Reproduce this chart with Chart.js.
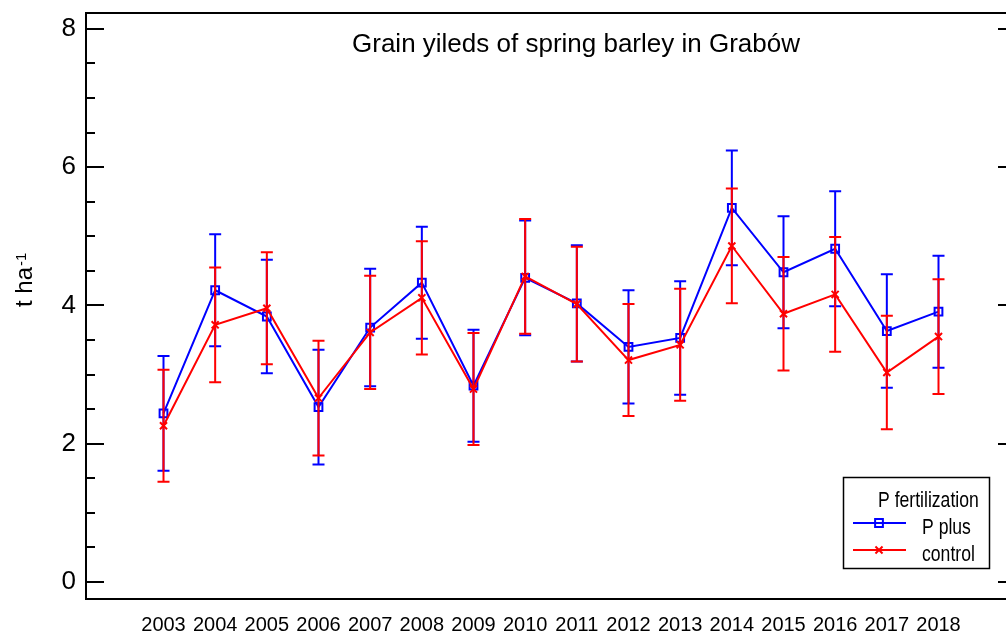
<!DOCTYPE html>
<html><head><meta charset="utf-8">
<script src="https://cdn.jsdelivr.net/npm/chart.js@4.4.0/dist/chart.umd.min.js"></script>
<style>html,body{margin:0;padding:0;background:#fff;overflow:hidden;} #wrap{width:1030px;height:637px;}</style>
</head><body><div id="wrap"><canvas id="c" width="1030" height="637"></canvas></div>
<script>
const years = [2003,2004,2005,2006,2007,2008,2009,2010,2011,2012,2013,2014,2015,2016,2017,2018];
const pPlus      = [2.44,4.22,3.84,2.53,3.68,4.33,2.84,4.40,4.03,3.40,3.53,5.41,4.48,4.82,3.63,3.91];
const pPlusErr   = [0.83,0.81,0.82,0.83,0.85,0.81,0.81,0.83,0.84,0.82,0.82,0.83,0.81,0.83,0.82,0.81];
const control    = [2.26,3.72,3.96,2.66,3.61,4.11,2.79,4.42,4.02,3.21,3.43,4.86,3.88,4.16,3.03,3.55];
const controlErr = [0.81,0.83,0.81,0.83,0.82,0.82,0.81,0.83,0.83,0.81,0.81,0.83,0.82,0.83,0.82,0.83];
const yTickLabels = [0,2,4,6,8];
const yMinorTicks = [0.5,1,1.5,2.5,3,3.5,4.5,5,5.5,6.5,7,7.5];
const titleText = 'Grain yileds of spring barley in Grabów';
const yAxisText = 't ha';
const yAxisSup = '-1';
const legendTitle = 'P fertilization';
const seriesNames = ['P plus','control'];
const seriesColors = ['#0000ff','#ff0000'];

const SANS = '"Liberation Sans", Arial, sans-serif';

const errorBars = {
  id: 'errorBars',
  afterDatasetDraw(chart, args) {
    const ds = chart.data.datasets[args.index];
    if (!ds.errors) return;
    const ctx = chart.ctx, xs = chart.scales.x, ys = chart.scales.y;
    ctx.save();
    ctx.strokeStyle = ds.borderColor; ctx.lineWidth = 2;
    ds.data.forEach((pt, i) => {
      const x = xs.getPixelForValue(pt.x);
      const t = ys.getPixelForValue(pt.y + ds.errors[i]);
      const b = ys.getPixelForValue(pt.y - ds.errors[i]);
      ctx.beginPath();
      ctx.moveTo(x, t); ctx.lineTo(x, b);
      ctx.moveTo(x - 6, t); ctx.lineTo(x + 6, t);
      ctx.moveTo(x - 6, b); ctx.lineTo(x + 6, b);
      ctx.stroke();
    });
    ctx.restore();
  }
};

function narrowText(ctx, text, x, y) {
  ctx.save();
  ctx.translate(x, y); ctx.scale(0.8, 1);
  ctx.fillText(text, 0, 0);
  ctx.restore();
}

const decor = {
  id: 'decor',
  afterDraw(chart) {
    const ctx = chart.ctx, a = chart.chartArea, ys = chart.scales.y;
    ctx.save();
    ctx.strokeStyle = '#000'; ctx.lineWidth = 2;
    ctx.beginPath(); ctx.moveTo(a.left - 1, a.top); ctx.lineTo(a.right, a.top); ctx.stroke();
    ctx.beginPath();
    yTickLabels.forEach(v => {
      const y = Math.round(ys.getPixelForValue(v));
      ctx.moveTo(a.left, y); ctx.lineTo(a.left + 18, y);
      ctx.moveTo(a.right - 18, y); ctx.lineTo(a.right, y);
    });
    yMinorTicks.forEach(v => {
      const y = Math.round(ys.getPixelForValue(v));
      ctx.moveTo(a.left, y); ctx.lineTo(a.left + 9, y);
      ctx.moveTo(a.right - 9, y); ctx.lineTo(a.right, y);
    });
    ctx.stroke();
    // title
    ctx.fillStyle = '#000';
    ctx.font = '26px ' + SANS;
    ctx.textAlign = 'center'; ctx.textBaseline = 'alphabetic';
    ctx.fillText(titleText, 576, 52);
    // y axis title
    ctx.save();
    ctx.translate(32, 307); ctx.rotate(-Math.PI / 2);
    ctx.textAlign = 'left';
    ctx.font = '24px ' + SANS;
    ctx.fillText(yAxisText, 0, 0);
    const w = ctx.measureText(yAxisText).width;
    ctx.font = '15px ' + SANS;
    ctx.fillText(yAxisSup, w + 1, -6);
    ctx.restore();
    // legend
    ctx.lineWidth = 1.5; ctx.strokeStyle = '#000';
    ctx.strokeRect(843.5, 477.5, 146, 91);
    ctx.font = '22px ' + SANS;
    ctx.textAlign = 'left';
    narrowText(ctx, legendTitle, 878, 507);
    const rows = [523, 550];
    chart.data.datasets.forEach((ds, i) => {
      const y = rows[i];
      ctx.strokeStyle = ds.borderColor; ctx.lineWidth = 2;
      ctx.beginPath(); ctx.moveTo(853, y); ctx.lineTo(906, y); ctx.stroke();
      ctx.fillStyle = 'rgba(0,0,0,0)';
      Chart.helpers.drawPoint(ctx, {pointStyle: ds.pointStyle, radius: ds.pointRadius, borderWidth: 2, rotation: 0}, 879, y);
      ctx.fillStyle = '#000';
      narrowText(ctx, ds.label, 922, y + 11);
    });
    ctx.restore();
  }
};

const mk = (vals) => vals.map((v, i) => ({x: years[i], y: v}));

new Chart(document.getElementById('c'), {
  type: 'line',
  data: {
    datasets: [
      {label: seriesNames[0], data: mk(pPlus), errors: pPlusErr, borderColor: seriesColors[0], backgroundColor: 'rgba(0,0,0,0)',
       borderWidth: 2, pointStyle: 'rect', pointRadius: 5.5, pointBorderWidth: 2, pointBackgroundColor: 'rgba(0,0,0,0)', tension: 0, order: 1},
      {label: seriesNames[1], data: mk(control), errors: controlErr, borderColor: seriesColors[1], backgroundColor: 'rgba(0,0,0,0)',
       borderWidth: 2, pointStyle: 'crossRot', pointRadius: 5, pointBorderWidth: 2, pointBackgroundColor: 'rgba(0,0,0,0)', tension: 0, order: 0}
    ]
  },
  options: {
    responsive: false, animation: false, devicePixelRatio: 1,
    layout: {padding: {left: 0, right: 14, top: 13, bottom: 0}},
    plugins: {legend: {display: false}, title: {display: false}, tooltip: {enabled: false}},
    scales: {
      x: {
        type: 'linear', min: 2001.5, max: 2019.5,
        grid: {display: false, drawTicks: false},
        border: {display: true, color: '#000', width: 2},
        afterBuildTicks: s => { s.ticks = years.map(v => ({value: v})); },
        afterFit: s => { s.height = 38; s.paddingLeft = 0; s.paddingRight = 0; },
        ticks: {autoSkip: false, maxRotation: 0, padding: 14, color: '#000', font: {family: SANS, size: 20},
                callback: v => String(v)}
      },
      y: {
        type: 'linear', min: -0.246, max: 8.23,
        grid: {display: false, drawTicks: false},
        border: {display: true, color: '#000', width: 2},
        afterBuildTicks: s => { s.ticks = yTickLabels.map(v => ({value: v})); },
        afterFit: s => { s.width = 86; s.paddingTop = 0; s.paddingBottom = 0; },
        ticks: {padding: 10, color: '#000', font: {family: SANS, size: 26}, callback: v => String(v)}
      }
    }
  },
  plugins: [errorBars, decor]
});
</script></body></html>
